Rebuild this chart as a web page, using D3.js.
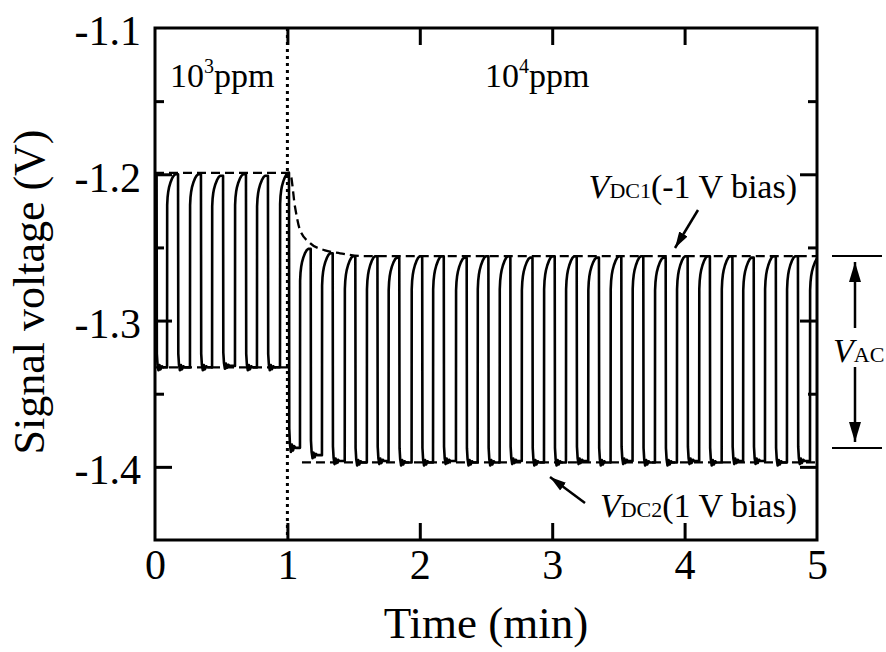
<!DOCTYPE html>
<html>
<head>
<meta charset="utf-8">
<script src="https://cdn.jsdelivr.net/npm/d3@7"></script>
<style>
  body { margin: 0; background: #fff; }
  svg text { font-family: "Liberation Serif", "Times New Roman", serif; fill: #000; }
</style>
</head>
<body>
<svg id="chart"></svg>
<script>
const width = 886;
const height = 652;

// axis ticks
const timeTicks = [0, 1, 2, 3, 4, 5];
const voltTicks = [-1.4, -1.3, -1.2, -1.1];
const voltMinor = [-1.35, -1.25, -1.15];

// square wave (time in min, voltage in V)
const startLevel = -1.200;
const startFall = 0.012;
const startLow = -1.332;
const riseTimes = [0.091, 0.264, 0.431, 0.604, 0.770, 0.944,
  1.095, 1.261, 1.433, 1.600, 1.764, 1.938, 2.100, 2.273, 2.437, 2.603,
  2.770, 2.938, 3.104, 3.272, 3.441, 3.607, 3.776, 3.942, 4.110, 4.280,
  4.442, 4.607, 4.773, 4.947];
const fallTimes = [0.174, 0.347, 0.514, 0.687, 0.853, 1.012,
  1.176, 1.342, 1.513, 1.680, 1.845, 2.018, 2.181, 2.354, 2.518, 2.684,
  2.851, 3.019, 3.185, 3.353, 3.522, 3.688, 3.857, 4.023, 4.191, 4.361,
  4.522, 4.689, 4.856, 5.030];
const highLevels = [-1.200, -1.200, -1.201, -1.200, -1.201, -1.199,
  -1.251, -1.254, -1.256, -1.256, -1.257, -1.256, -1.256, -1.257, -1.256, -1.256,
  -1.257, -1.256, -1.256, -1.257, -1.256, -1.256, -1.257, -1.256, -1.256, -1.256,
  -1.257, -1.256, -1.256, -1.257];
const lowLevels = [-1.332, -1.332, -1.331, -1.332, -1.332, -1.387,
  -1.392, -1.396, -1.397, -1.396, -1.397, -1.397, -1.396, -1.397, -1.397, -1.396,
  -1.397, -1.397, -1.396, -1.397, -1.396, -1.397, -1.397, -1.396, -1.397, -1.396,
  -1.396, -1.397, -1.396, -1.397];
// shape of one rising edge and one falling edge: [minutes after edge, fraction of swing]
const riseShape = [[0, 0], [0.001, 0.84], [0.004, 0.88], [0.009, 0.91], [0.015, 0.932],
  [0.025, 0.956], [0.037, 0.977], [0.05, 0.993], [0.062, 1]];
const fallShape = [[0, 1], [0.002, 0.07], [0.007, 0.015], [0.014, -0.015], [0.022, 0.012],
  [0.03, -0.01], [0.04, 0.006], [0.05, 0]];

// dashed envelopes
const envTop = [[0, -1.199], [1.0, -1.199], [1.02, -1.199], [1.057, -1.222], [1.095, -1.238],
  [1.171, -1.247], [1.284, -1.252], [1.397, -1.254], [1.586, -1.256], [5, -1.256]];
const envLow1 = [[0, -1.332], [1.01, -1.332]];
const envLow2 = [[1.11, -1.397], [5, -1.397]];

const x = d3.scaleLinear().domain([0, 5]).range([155, 817]);
const y = d3.scaleLinear().domain([-1.45, -1.1]).range([540, 28]);

const svg = d3.select("#chart")
    .attr("width", width)
    .attr("height", height)
    .attr("viewBox", [0, 0, width, height]);

const defs = svg.append("defs");
defs.append("clipPath").attr("id", "plot")
  .append("rect")
    .attr("x", x(0)).attr("y", y(-1.1))
    .attr("width", x(5) - x(0)).attr("height", y(-1.45) - y(-1.1));

// build the signal trace from the edges
const signal = [[0, startLevel], [startFall, startLevel]];
fallShape.forEach(([dt, f]) => signal.push([startFall + dt, startLow + f * (startLevel - startLow)]));
let low = startLow;
riseTimes.forEach((r, i) => {
    const hi = highLevels[i];
    riseShape.forEach(([dt, f]) => signal.push([r + dt, low + f * (hi - low)]));
    const nl = lowLevels[i];
    fallShape.forEach(([dt, f]) => signal.push([fallTimes[i] + dt, nl + f * (hi - nl)]));
    low = nl;
});

const line = d3.line().x(d => x(d[0])).y(d => y(d[1]));
const smooth = d3.line().x(d => x(d[0])).y(d => y(d[1])).curve(d3.curveMonotoneX);

const plot = svg.append("g").attr("clip-path", "url(#plot)");

plot.append("path")
    .attr("d", line(signal))
    .attr("fill", "none")
    .attr("stroke", "#000")
    .attr("stroke-width", 2.6)
    .attr("stroke-linejoin", "round");

[envTop, envLow1, envLow2].forEach(env => {
    plot.append("path")
        .attr("d", smooth(env))
        .attr("fill", "none")
        .attr("stroke", "#000")
        .attr("stroke-width", 2.3)
        .attr("stroke-dasharray", "9,5");
});

// concentration switch
svg.append("line")
    .attr("x1", x(1)).attr("x2", x(1))
    .attr("y1", y(-1.1)).attr("y2", y(-1.45))
    .attr("stroke", "#000")
    .attr("stroke-width", 3)
    .attr("stroke-dasharray", "3,4");

// axes
function styleAxis(g) {
    g.select(".domain").remove();
    g.selectAll(".tick line").attr("stroke", "#000").attr("stroke-width", 3);
    g.selectAll(".tick text").attr("font-size", 42).attr("fill", "#000");
}
const fmt = d => d.toFixed(1);

svg.append("g")
    .attr("transform", `translate(0,${y(-1.45)})`)
    .call(d3.axisBottom(x).tickValues(timeTicks).tickSize(-17).tickPadding(9).tickFormat(d3.format("d")))
    .call(styleAxis)
    .call(g => g.selectAll(".tick").filter(d => d === 0 || d === 5).select("line").remove());

svg.append("g")
    .attr("transform", `translate(0,${y(-1.1)})`)
    .call(d3.axisTop(x).tickValues(timeTicks.slice(1, -1)).tickSize(-17).tickFormat(""))
    .call(styleAxis);

svg.append("g")
    .attr("transform", `translate(${x(0)},0)`)
    .call(d3.axisLeft(y).tickValues(voltTicks).tickSize(-17).tickPadding(14).tickFormat(fmt))
    .call(styleAxis)
    .call(g => g.selectAll(".tick text").attr("dy", "0.4em"))
    .call(g => g.selectAll(".tick").filter(d => d === -1.1).select("line").remove());

svg.append("g")
    .attr("transform", `translate(${x(0)},0)`)
    .call(d3.axisLeft(y).tickValues(voltMinor).tickSize(-9).tickFormat(""))
    .call(styleAxis);

svg.append("g")
    .attr("transform", `translate(${x(5)},0)`)
    .call(d3.axisRight(y).tickValues(voltTicks.slice(0, -1)).tickSize(-17).tickFormat(""))
    .call(styleAxis);

svg.append("g")
    .attr("transform", `translate(${x(5)},0)`)
    .call(d3.axisRight(y).tickValues(voltMinor).tickSize(-9).tickFormat(""))
    .call(styleAxis);

svg.append("rect")
    .attr("x", x(0)).attr("y", y(-1.1))
    .attr("width", x(5) - x(0)).attr("height", y(-1.45) - y(-1.1))
    .attr("fill", "none")
    .attr("stroke", "#000")
    .attr("stroke-width", 3);

// axis titles
svg.append("text")
    .attr("x", (x(0) + x(5)) / 2)
    .attr("y", 638)
    .attr("text-anchor", "middle")
    .attr("font-size", 45)
    .text("Time (min)");

svg.append("text")
    .attr("transform", `translate(44,292) rotate(-90)`)
    .attr("text-anchor", "middle")
    .attr("font-size", 44)
    .text("Signal voltage (V)");

// concentration labels
function ppmLabel(xp, exp) {
    const t = svg.append("text").attr("x", xp).attr("y", 87).attr("font-size", 34);
    t.append("tspan").text("10");
    t.append("tspan").attr("font-size", 20).attr("dy", -14).text(exp);
    t.append("tspan").attr("dy", 14).text("ppm");
}
ppmLabel(170, "3");
ppmLabel(485, "4");

// V labels with subscripts
function vLabel(xp, yp, sub, rest, size, subSize, anchor) {
    const t = svg.append("text").attr("x", xp).attr("y", yp)
        .attr("font-size", size).attr("text-anchor", anchor);
    t.append("tspan").attr("font-style", "italic").text("V");
    t.append("tspan").attr("font-size", subSize).text(sub);
    if (rest) t.append("tspan").text(rest);
}
vLabel(797, 198, "DC1", "(-1 V bias)", 34, 22, "end");
vLabel(797, 517, "DC2", "(1 V bias)", 34, 22, "end");
vLabel(833, 362, "AC", "", 34, 22, "start");

// arrows
function marker(id, size) {
    defs.append("marker")
        .attr("id", id)
        .attr("viewBox", "0 0 10 10")
        .attr("refX", 10).attr("refY", 5)
        .attr("markerWidth", size).attr("markerHeight", size)
        .attr("markerUnits", "strokeWidth")
        .attr("orient", "auto-start-reverse")
      .append("path")
        .attr("d", "M0,2 L10,5 L0,8 Z")
        .attr("fill", "#000");
}
marker("head", 6.5);
marker("headBig", 8);

function arrow(x1, y1, x2, y2, id) {
    svg.append("line")
        .attr("x1", x1).attr("y1", y1).attr("x2", x2).attr("y2", y2)
        .attr("stroke", "#000").attr("stroke-width", 2.5)
        .attr("marker-end", `url(#${id})`);
}
arrow(698, 210, 675, 248, "head");
arrow(585, 503, 550, 477, "head");
arrow(855, 328, 855, 262, "headBig");
arrow(855, 367, 855, 442, "headBig");

// V_AC guide lines
[256, 448].forEach(yy => {
    svg.append("line")
        .attr("x1", 832).attr("x2", 882)
        .attr("y1", yy).attr("y2", yy)
        .attr("stroke", "#000").attr("stroke-width", 2);
});
</script>
</body>
</html>
